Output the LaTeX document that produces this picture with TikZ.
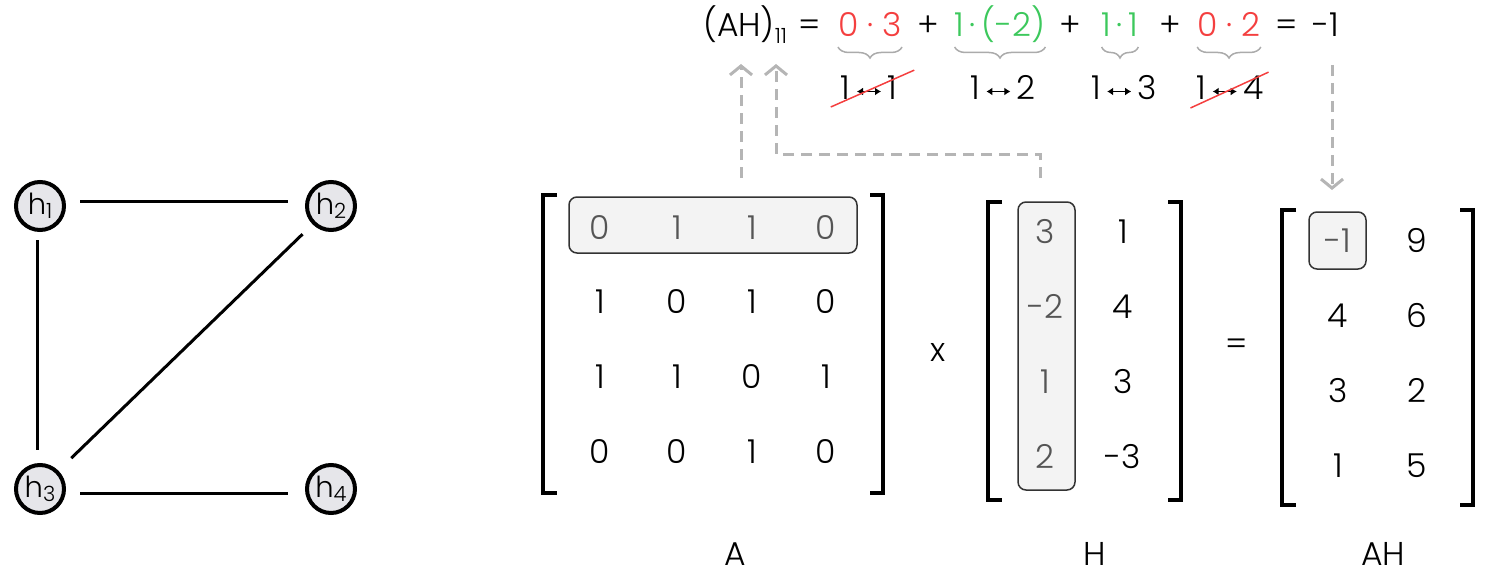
\documentclass[tikz,border=0pt]{standalone}
\usepackage{fontspec}
\setmainfont{Poppins}[UprightFont=* Light]
\usetikzlibrary{arrows.meta,decorations.pathreplacing}
\definecolor{eqred}{HTML}{F43F3F}
\definecolor{eqgreen}{HTML}{3CC85C}
\definecolor{dashgray}{HTML}{B5B5B5}
\definecolor{bracegray}{HTML}{ABABAB}
\definecolor{hlfill}{HTML}{F3F3F3}
\definecolor{hltext}{HTML}{555555}
\definecolor{nodefill}{HTML}{E6E6EA}
\newcommand{\lowsub}[3]{\raisebox{-#1}{\fontsize{#2}{#2}\selectfont #3}}
\newcommand{\dblarr}{\,\tikz[baseline=0pt]\draw[{Latex[length=6pt,width=8pt]}-{Latex[length=6pt,width=8pt]},line width=1.8pt] (0pt,8.5pt) -- (24pt,8.5pt);\,}
\begin{document}
\begin{tikzpicture}[x=1pt,y=-1pt,
  txt/.style={font=\fontsize{33}{40}\selectfont, inner sep=0pt, anchor=base},
  gnode/.style={circle, draw=black, line width=4pt, fill=nodefill, minimum size=48pt, inner sep=0pt, font=\fontsize{29}{30}\selectfont},
  gedge/.style={line width=3pt},
  bracket/.style={line width=4pt},
  hlbox/.style={draw=black!80, line width=1.5pt, fill=hlfill, rounded corners=8pt, inner sep=0pt},
  hltxt/.style={txt, text=hltext},
  dasharrow/.style={draw=dashgray, line width=3pt, dash pattern=on 11pt off 7pt, -{Straight Barb[length=9pt,width=22pt]}},
  cbrace/.style={draw=bracegray, line width=1.5pt, decorate, decoration={brace, mirror, amplitude=11pt, aspect=0.5}},
  strike/.style={draw=eqred, line width=1.5pt}]
\useasboundingbox (0,0) rectangle (1488,575);

% ---- graph ----
\node[gnode] (h1) at (40,206) {h\lowsub{4pt}{21}{1}};
\node[gnode] (h2) at (331,206) {h\lowsub{4pt}{21}{2}};
\node[gnode] (h3) at (40,489) {h\lowsub{4pt}{21}{3}};
\node[gnode] (h4) at (331,489) {h\lowsub{4pt}{21}{4}};
\draw[gedge, shorten <=14pt, shorten >=17pt] ([yshift=5pt]h1.east) -- ([yshift=5pt]h2.west);
\draw[gedge, shorten <=8pt, shorten >=13pt] ([xshift=-3pt]h1.south) -- ([xshift=-3pt]h3.north);
\draw[gedge, shorten <=18pt, shorten >=14pt] (h3.45) -- (h2.225);
\draw[gedge, shorten <=14pt, shorten >=17pt] ([yshift=-4pt]h3.east) -- ([yshift=-4pt]h4.west);

% ---- matrix A ----
\draw[bracket] (557,195) -- (543,195) -- (543,493) -- (557,493);
\draw[bracket] (870,195) -- (883,195) -- (883,493) -- (870,493);
\node[hlbox, minimum width=288pt, minimum height=56pt] (rowbox) at (713,225) {};
\node[hltxt] (a11) at (600,239) {0};
\node[hltxt] (a12) at (677,239) {1};
\node[hltxt] (a13) at (752,239) {1};
\node[hltxt] (a14) at (826,239) {0};
\node[txt] (a21) at (600,313.5) {1};
\node[txt] (a22) at (677,313.5) {0};
\node[txt] (a23) at (752,313.5) {1};
\node[txt] (a24) at (826,313.5) {0};
\node[txt] (a31) at (600,388) {1};
\node[txt] (a32) at (677,388) {1};
\node[txt] (a33) at (752,388) {0};
\node[txt] (a34) at (826,388) {1};
\node[txt] (a41) at (600,463) {0};
\node[txt] (a42) at (677,463) {0};
\node[txt] (a43) at (752,463) {1};
\node[txt] (a44) at (826,463) {0};
\node[txt] (labA) at (735,565) {A};

\node[txt, anchor=center] (times) at (938,352) {x};

% ---- matrix H ----
\draw[bracket] (1002,202) -- (988,202) -- (988,500) -- (1002,500);
\draw[bracket] (1168,202) -- (1181,202) -- (1181,500) -- (1168,500);
\node[hlbox, minimum width=57pt, minimum height=288pt] (colbox) at (1046.5,346) {};
\node[hltxt] (b11) at (1045,243) {3};
\node[hltxt] (b21) at (1045,318) {-2};
\node[hltxt] (b31) at (1045,393) {1};
\node[hltxt] (b41) at (1045,468) {2};
\node[txt] (b12) at (1123,243) {1};
\node[txt] (b22) at (1123,318) {4};
\node[txt] (b32) at (1123,393) {3};
\node[txt] (b42) at (1123,468) {-3};
\node[txt] (labH) at (1095,565) {H};

\node[txt, anchor=center] (equals) at (1237,347) {=};

% ---- matrix AH ----
\draw[bracket] (1296,210) -- (1282,210) -- (1282,505) -- (1296,505);
\draw[bracket] (1460,210) -- (1473,210) -- (1473,505) -- (1460,505);
\node[hlbox, minimum width=57pt, minimum height=57pt] (cellbox) at (1337.5,240.5) {};
\node[hltxt] (c11) at (1338,252) {-1};
\node[txt] (c12) at (1417,252) {9};
\node[txt] (c21) at (1338,327) {4};
\node[txt] (c22) at (1417,327) {6};
\node[txt] (c31) at (1338,402) {3};
\node[txt] (c32) at (1417,402) {2};
\node[txt] (c41) at (1338,477) {1};
\node[txt] (c42) at (1417,477) {5};
\node[txt] (labAH) at (1383,565) {AH};

% ---- equation ----
\node[txt, anchor=base west] (ah) at (703,37) {(AH)\lowsub{7pt}{21}{11}};
\node[txt] (eq1) at (810,37) {=};
\node[txt, text=eqred] (t1) at (870,37) {0 · 3};
\node[txt] (p1) at (928,37) {+};
\node[txt, text=eqgreen] (t2) at (1000,37) {1\,·\,(-2)};
\node[txt] (p2) at (1070,37) {+};
\node[txt, text=eqgreen] (t3) at (1120,37) {1\,·\,1};
\node[txt] (p3) at (1170,37) {+};
\node[txt, text=eqred] (t4) at (1229,37) {0 · 2};
\node[txt] (eq2) at (1287,37) {=};
\node[txt] (res) at (1326,37) {-1};

\draw[cbrace] ([yshift=-10pt]t1.base west) -- ([yshift=-10pt]t1.base east);
\draw[cbrace] ([yshift=-10pt]t2.base west) -- ([yshift=-10pt]t2.base east);
\draw[cbrace] ([yshift=-10pt]t3.base west) -- ([yshift=-10pt]t3.base east);
\draw[cbrace] ([yshift=-10pt]t4.base west) -- ([yshift=-10pt]t4.base east);

\node[txt] (l1) at (869,100) {1\dblarr1};
\node[txt] (l2) at (1003,100) {1\dblarr2};
\node[txt] (l3) at (1124,100) {1\dblarr3};
\node[txt] (l4) at (1230,100) {1\dblarr4};
\draw[strike] ([shift={(-10,7)}]l1.base west) -- ([shift={(17,-6)}]l1.north east);
\draw[strike] ([shift={(-6,8)}]l4.base west) -- ([shift={(5,-4)}]l4.north east);

% ---- dashed arrows ----
\coordinate (s1) at (741,178);
\coordinate (e1) at (741,64);
\coordinate (s2) at (1040,178);
\coordinate (e2) at (776,64);
\coordinate (s3) at (1332,65);
\coordinate (e3) at (1332,190);
\draw[dasharrow] (s1) -- (e1);
\draw[dasharrow] (s2) -- (1040,154) -- (776,154) -- (e2);
\draw[dasharrow] (s3) -- (e3);
\end{tikzpicture}
\end{document}
